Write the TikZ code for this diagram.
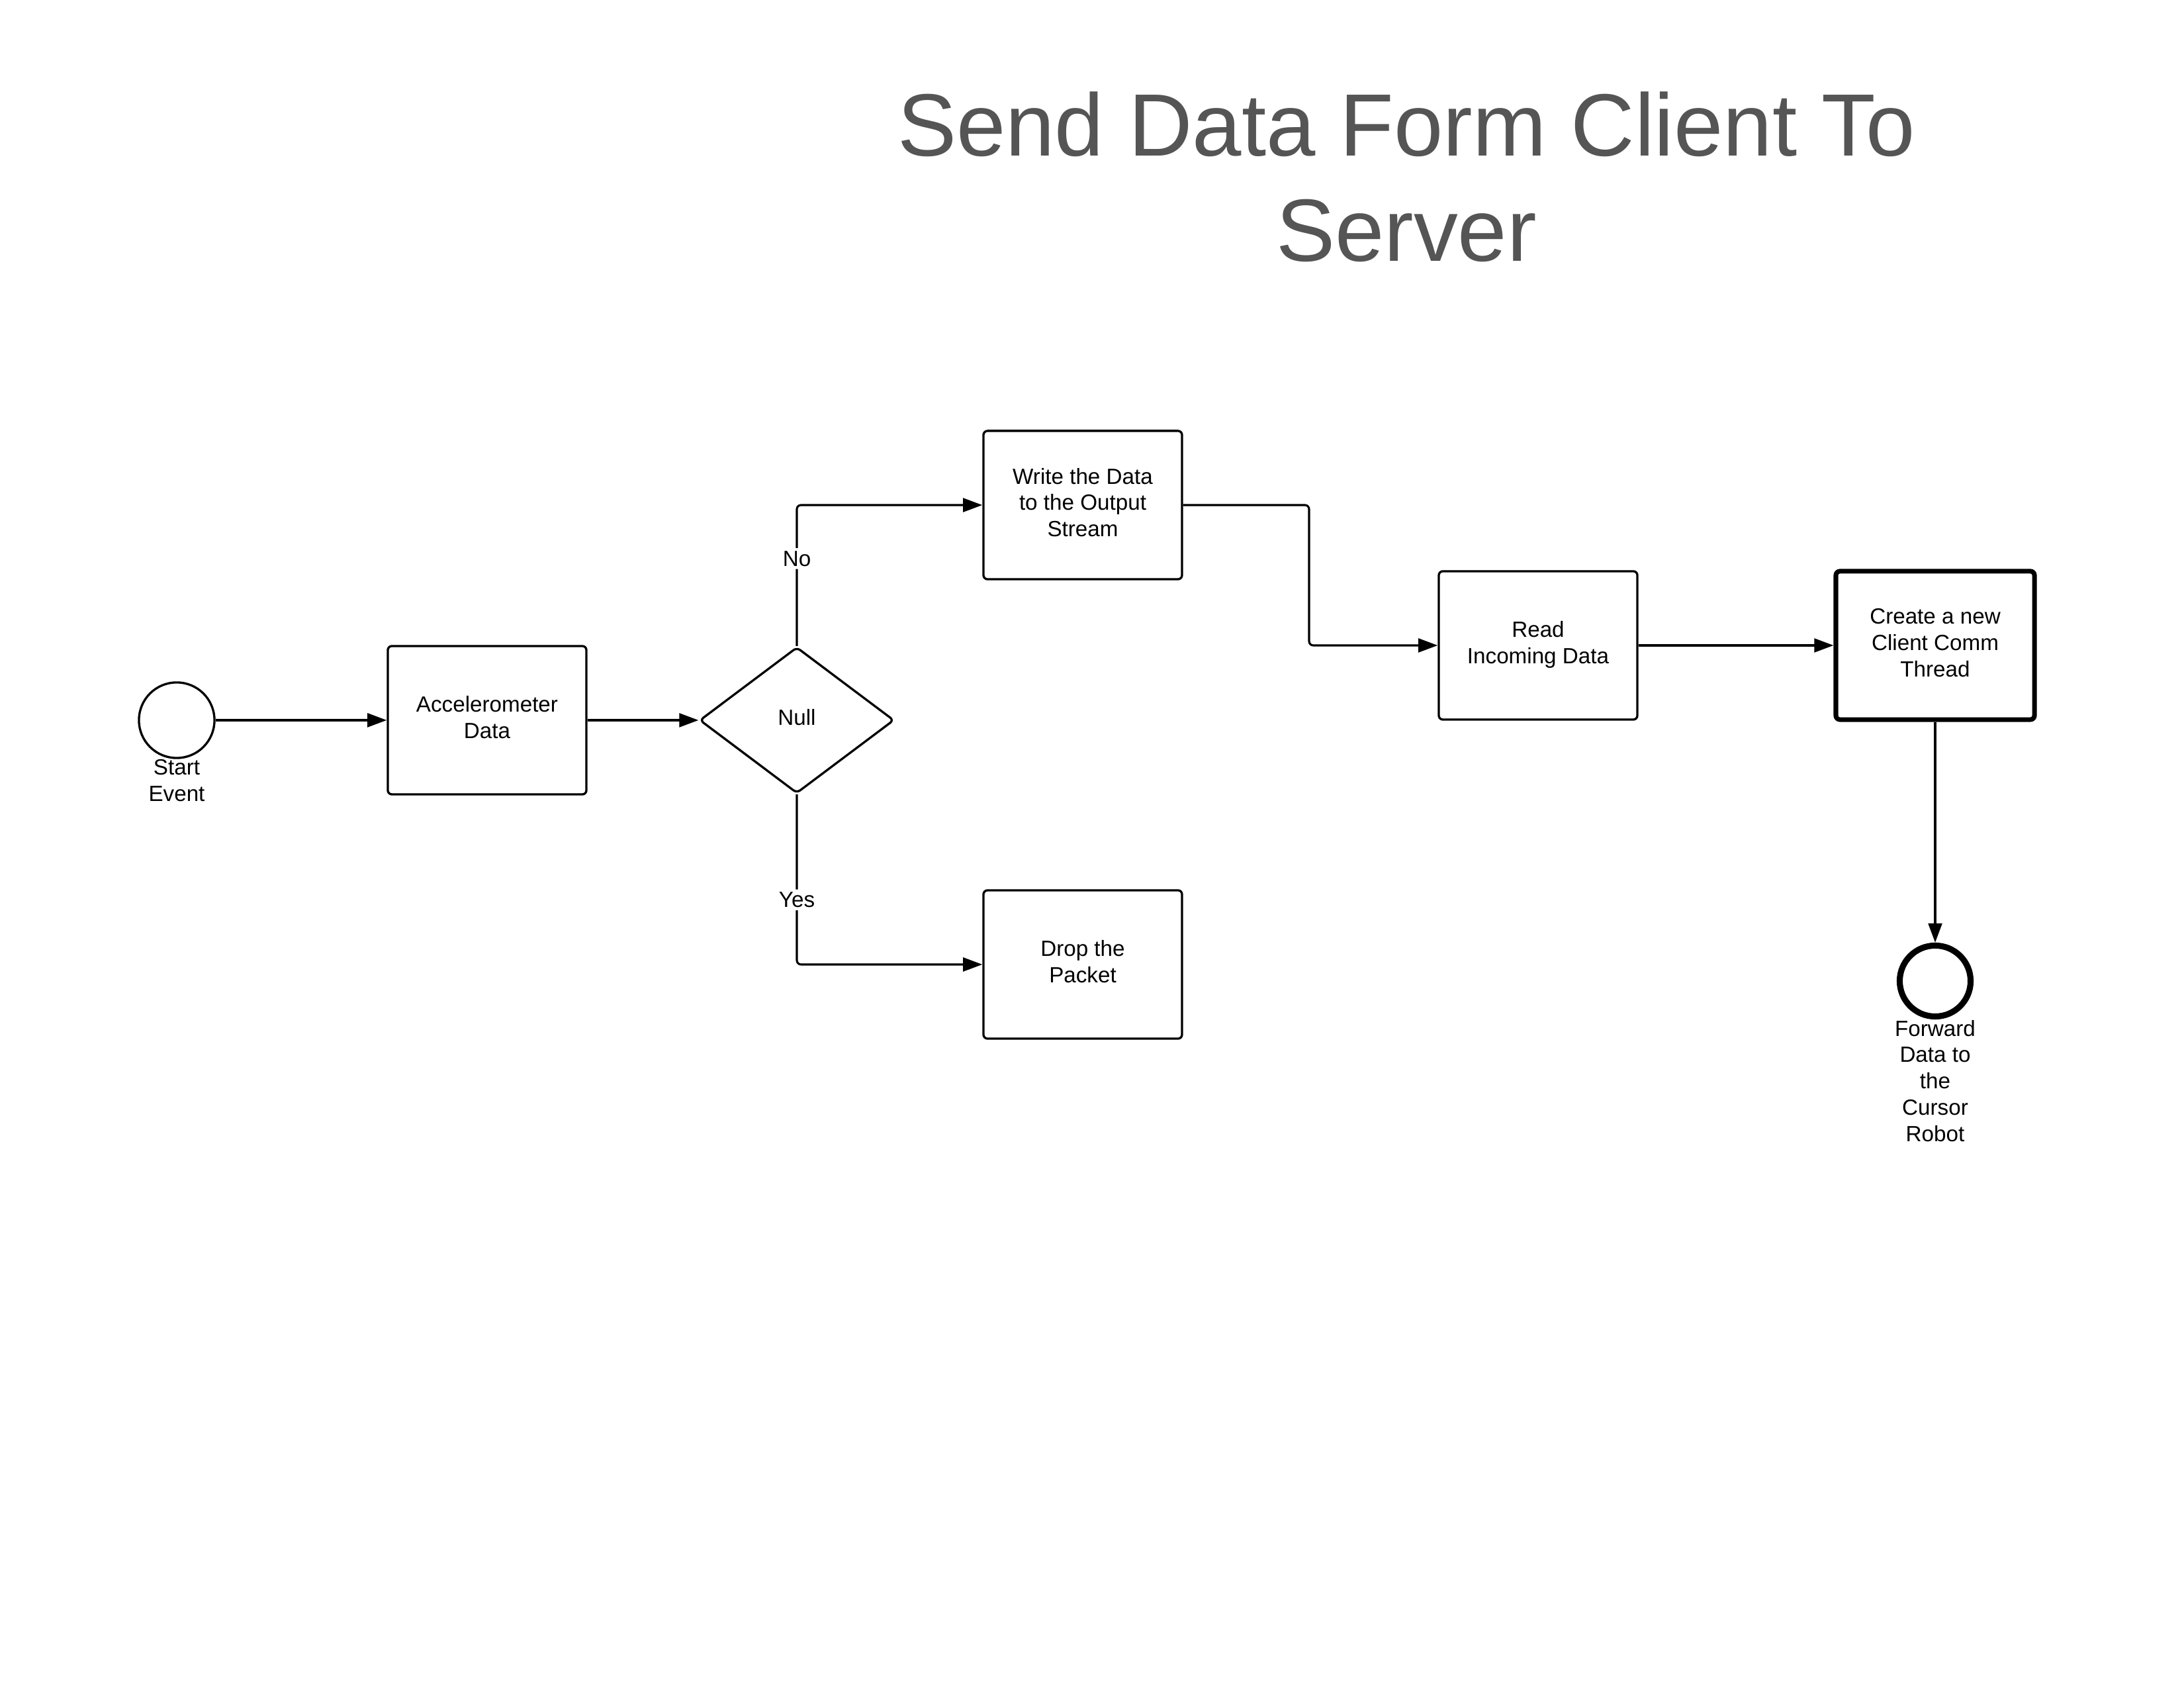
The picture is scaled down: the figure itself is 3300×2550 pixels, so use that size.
\documentclass[tikz,border=0pt]{standalone}
\usepackage{fontspec}
\setmainfont{Liberation Sans}
\usetikzlibrary{arrows.meta, shapes.geometric, positioning}

\newcommand{\bodyfont}{\fontsize{8}{9.6}\selectfont}
\definecolor{titlegray}{HTML}{555555}

\tikzstyle{task} = [draw, rounded corners=1.5pt, line width=0.8pt, minimum width=72.3pt, minimum height=54pt, align=center, font=\bodyfont, inner sep=2pt, text depth=2pt]
\tikzstyle{gateway} = [draw, diamond, rounded corners=1.5pt, line width=0.8pt, minimum width=70.8pt, minimum height=53.2pt, inner sep=0pt, font=\bodyfont, text depth=2pt]
\tikzstyle{event} = [draw, circle, line width=0.8pt, minimum size=27.5pt, inner sep=0pt]
\tikzstyle{endevent} = [draw, circle, line width=2.2pt, minimum size=25.8pt, inner sep=0pt]
\tikzstyle{evlabel} = [align=center, font=\bodyfont, inner sep=0pt]
\tikzstyle{lbl} = [fill=white, font=\bodyfont, inner sep=1pt]
\tikzstyle{line} = [draw, line width=0.75pt, rounded corners=1.5pt, -{Triangle[length=7pt,width=5pt]}]

\begin{document}
\begin{tikzpicture}[x=0.2409pt, y=-0.2409pt]
\useasboundingbox (0,0) rectangle (3300,2550);

% Title
\node[align=center, inner sep=0pt, text=titlegray, font=\fontsize{32.2}{38.4}\selectfont] (title) at (2125,267) {Send Data Form Client To\\Server};

% Events and tasks
\node[event] (start) at (267,1088) {};
\node[evlabel, below=0pt of start] (startlbl) {Start\\Event};
\node[task] (accel) at (736,1088) {Accelerometer\\Data};
\node[gateway] (null) at (1204,1088) {Null};
\node[task] (write) at (1636,763) {Write the Data\\to the Output\\Stream};
\node[task] (drop) at (1636,1457) {Drop the\\Packet};
\node[task] (read) at (2324,975) {Read\\Incoming Data};
\node[task, line width=1.7pt] (create) at (2924,975) {Create a new\\Client Comm\\Thread};
\node[endevent] (end) at (2924,1482) {};
\node[evlabel, below=0pt of end] (endlbl) {Forward\\Data to\\the\\Cursor\\Robot};

% Connectors
\coordinate (bend) at (1978,763);
\path[line] (start) -- (accel);
\path[line] (accel) -- (null);
\path[line] (null.north) |- node[lbl, pos=0.31] {No} (write.west);
\path[line] (null.south) |- node[lbl, pos=0.31] {Yes} (drop.west);
\path[line] (write.east) -- (bend) |- (read.west);
\path[line] (read) -- (create);
\path[line] (create) -- (end);

\end{tikzpicture}
\end{document}
